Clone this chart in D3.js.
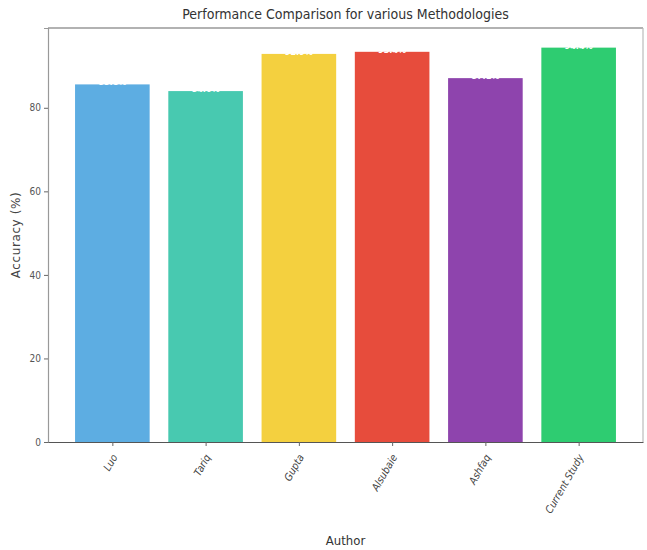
<!DOCTYPE html>
<html><head><meta charset="utf-8">
<script src="https://cdn.jsdelivr.net/npm/d3@7"></script>
<style>body{margin:0;background:#fff}</style>
</head><body>
<svg id="c" width="647" height="550"></svg>
<script>
const authors = ["Luo", "Tariq", "Gupta", "Alsubaie", "Ashfaq", "Current Study"];
const accuracy = [85.6, 84.0, 92.9, 93.4, 87.1, 94.4];
const barColors = ["#5DADE2", "#48C9B0", "#F4D03F", "#E74C3C", "#8E44AD", "#2ECC71"];
const yTicks = [0, 20, 40, 60, 80];

const svg = d3.select("#c");
const m = {left: 48, top: 28, right: 643, bottom: 442};
const n = authors.length;
const x = d3.scaleLinear().domain([-0.69, n - 1 + 0.69]).range([m.left, m.right]);
const y = d3.scaleLinear().domain([0, 99.1]).range([m.bottom, m.top]);
const bw = x(0.8) - x(0);

svg.selectAll("rect.bar").data(accuracy).join("rect")
  .attr("class", "bar")
  .attr("x", (d, i) => x(i) - bw / 2)
  .attr("width", bw)
  .attr("y", d => y(d))
  .attr("height", d => y(0) - y(d))
  .attr("fill", (d, i) => barColors[i]);

svg.selectAll("text.val").data(accuracy).join("text")
  .attr("class", "val")
  .attr("x", (d, i) => x(i))
  .attr("y", d => y(d) + 1)
  .attr("text-anchor", "middle")
  .attr("font-family", "DejaVu Sans Condensed, DejaVu Sans")
  .attr("font-size", 9)
  .attr("font-weight", "bold")
  .attr("fill", "#fff")
  .text(d => d.toFixed(1) + "%");

// spines
svg.append("line").attr("x1", m.left).attr("x2", m.right).attr("y1", m.top).attr("y2", m.top).attr("stroke", "#666").attr("stroke-width", 1.2);
svg.append("line").attr("x1", m.right).attr("x2", m.right).attr("y1", m.top).attr("y2", m.bottom).attr("stroke", "#bbb").attr("stroke-width", 1.2);

const yAxis = svg.append("g").attr("transform", `translate(${m.left},0)`)
  .call(d3.axisLeft(y).tickValues(yTicks).tickSize(4).tickPadding(3));
yAxis.select(".domain").attr("stroke", "#999").attr("stroke-width", 1.2);
yAxis.selectAll(".tick line").attr("stroke", "#666");
yAxis.selectAll("text").attr("font-family", "DejaVu Sans Condensed, DejaVu Sans").attr("font-size", 10).attr("fill", "#555");

const xAxis = svg.append("g").attr("transform", `translate(0,${m.bottom})`)
  .call(d3.axisBottom(x).tickValues(d3.range(n)).tickFormat(i => authors[i]).tickSize(4).tickSizeOuter(0));
xAxis.select(".domain").attr("stroke", "#555").attr("stroke-width", 1.2);
xAxis.selectAll(".tick line").attr("stroke", "#666");
xAxis.selectAll("text")
  .attr("font-family", "DejaVu Sans Condensed, DejaVu Sans").attr("font-size", 10.5).attr("fill", "#444")
  .attr("font-style", "italic")
  .attr("text-anchor", "end").attr("dy", null).attr("y", 0)
  .attr("transform", "translate(5,15) rotate(-60)");

svg.append("text").attr("x", (m.left + m.right) / 2).attr("y", 19)
  .attr("text-anchor", "middle").attr("font-family", "DejaVu Sans Condensed, DejaVu Sans")
  .attr("font-size", 14).attr("fill", "#333").text("Performance Comparison for various Methodologies");

svg.append("text").attr("transform", `translate(20,${(m.top + m.bottom) / 2}) rotate(-90)`)
  .attr("text-anchor", "middle").attr("font-family", "DejaVu Sans")
  .attr("font-size", 12).attr("fill", "#444").attr("letter-spacing", 0.6).text("Accuracy (%)");

svg.append("text").attr("x", (m.left + m.right) / 2).attr("y", 545)
  .attr("text-anchor", "middle").attr("font-family", "DejaVu Sans Condensed, DejaVu Sans")
  .attr("font-size", 13).attr("fill", "#333").text("Author");
</script>
</body></html>
